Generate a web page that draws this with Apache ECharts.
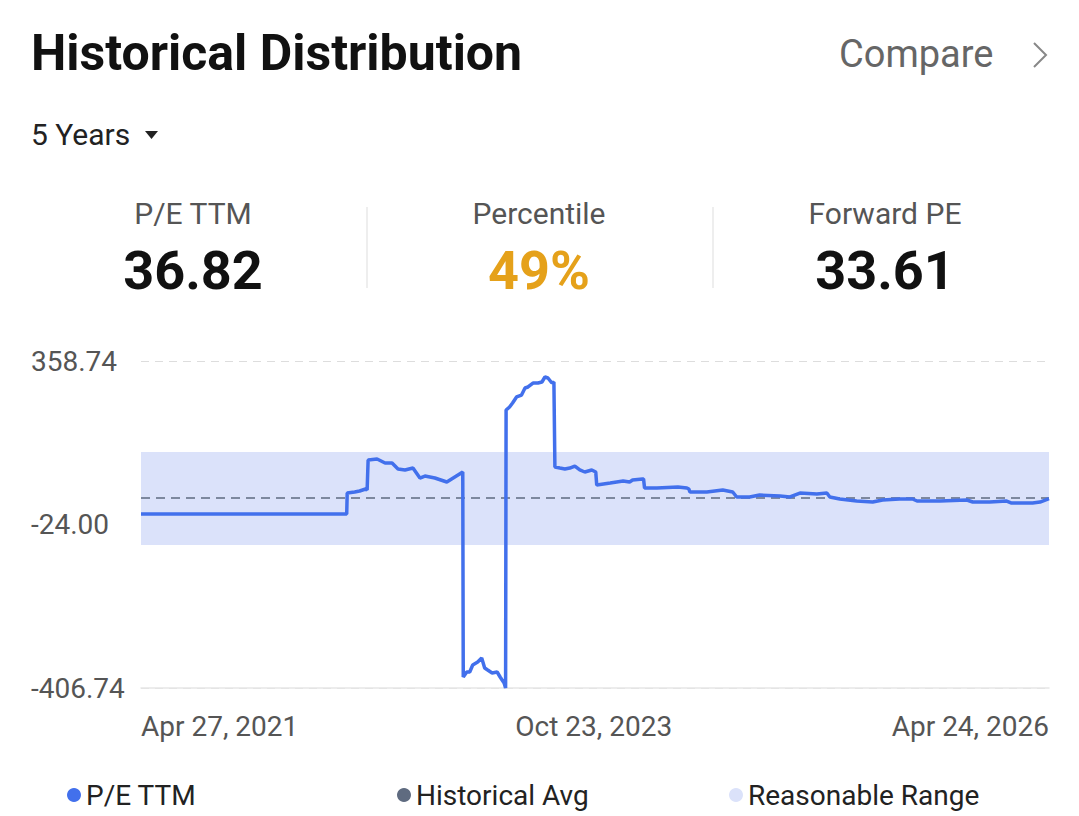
<!DOCTYPE html>
<html>
<head>
<meta charset="utf-8">
<script src="https://cdn.jsdelivr.net/npm/echarts@6/dist/echarts.min.js"></script>
<style>
  html, body { margin: 0; padding: 0; background: #fff; }
  #main { width: 1079px; height: 816px; }
</style>
</head>
<body>
<div id="main"></div>
<script>
// P/E TTM history
var peDates = [
  '2021-04-27','2022-06-14','2022-06-15','2022-06-30','2022-07-10','2022-07-22','2022-07-25',
  '2022-07-27','2022-08-14','2022-08-30','2022-09-13','2022-09-25','2022-10-09','2022-10-25',
  '2022-11-08','2022-11-18','2022-12-08','2023-01-01','2023-01-17','2023-02-02','2023-02-03',
  '2023-02-10','2023-02-16','2023-02-22','2023-03-04','2023-03-12','2023-03-18','2023-03-24',
  '2023-04-02','2023-04-12','2023-04-18','2023-04-26','2023-04-29','2023-04-30','2023-05-07',
  '2023-05-13','2023-05-21','2023-05-31','2023-06-07','2023-06-13','2023-06-23','2023-07-03',
  '2023-07-11','2023-07-17','2023-07-23','2023-07-31','2023-08-04','2023-08-06','2023-08-16',
  '2023-08-26','2023-09-05','2023-09-15','2023-09-25','2023-10-05','2023-10-19','2023-10-27',
  '2023-10-29','2023-11-25','2023-12-21','2024-01-03','2024-01-09','2024-01-29','2024-01-31',
  '2024-02-02','2024-02-27','2024-04-09','2024-04-27','2024-05-01','2024-05-03','2024-06-06',
  '2024-07-08','2024-07-28','2024-08-05','2024-08-31','2024-09-20','2024-10-31','2024-11-20',
  '2024-12-10','2025-01-13','2025-02-02','2025-02-08','2025-02-28','2025-04-03','2025-05-05',
  '2025-05-25','2025-06-28','2025-07-24','2025-08-02','2025-09-17','2025-11-10','2025-11-22',
  '2025-12-26','2026-01-29','2026-02-08','2026-03-22','2026-04-06','2026-04-24'
];
var peValues = [
  0.6, 0.6, 49.7, 52.1, 54.4, 59.1, 56.7,
  127.0, 129.3, 119.9, 119.9, 105.9, 103.6, 108.2,
  84.8, 89.5, 84.8, 75.5, 87.2, 98.9, -381.0,
  -369.3, -369.3, -352.9, -345.9, -336.5, -359.9, -364.6,
  -371.6, -369.3, -381.0, -395.0, -406.74, 244.0, 251.0,
  260.4, 274.5, 279.1, 295.5, 297.9, 307.2, 307.2,
  309.6, 321.3, 318.9, 307.2, 309.6, 110.6, 108.2,
  105.9, 108.2, 112.9, 103.6, 98.9, 103.6, 98.9,
  68.4, 73.1, 77.8, 75.5, 80.2, 82.5, 82.5,
  61.4, 61.4, 63.8, 61.4, 59.1, 52.1, 52.1,
  56.7, 52.1, 40.4, 40.4, 45.0, 42.7, 40.4,
  49.7, 47.4, 49.7, 40.4, 35.7, 31.0, 28.6,
  33.3, 35.7, 35.7, 31.0, 31.0, 33.3, 28.6,
  28.6, 31.0, 26.3, 26.3, 28.6, 36.82
];
var historicalAvg = 38.0;
var reasonableRange = [-72.0, 145.7];
var yTicks = [-406.74, -24.00, 358.74];
var xTicks = ['2021-04-27', '2023-10-23', '2026-04-24'];

var stats = [
  { name: 'P/E TTM', value: '36.82', color: '#111111' },
  { name: 'Percentile', value: '49%', color: '#e5a11a' },
  { name: 'Forward PE', value: '33.61', color: '#111111' }
];

var MONTHS = ['Jan','Feb','Mar','Apr','May','Jun','Jul','Aug','Sep','Oct','Nov','Dec'];
var FONT = 'Roboto, "Noto Sans", sans-serif';

var chart = echarts.init(document.getElementById('main'), null, { renderer: 'svg' });

var lineColor = '#4270ec';
var avgColor = '#5f6b80';
var bandColor = '#dbe2fa';

var peData = peDates.map(function (d, i) { return [Date.parse(d), peValues[i]]; });
var xTickNums = xTicks.map(function (d) { return Date.parse(d); });

// header texts + dividers
var graphics = [
  { type: 'text', left: 31, top: 28, style: { text: 'Historical Distribution', font: 'bold 50px ' + FONT, fill: '#111' } },
  { type: 'text', left: 839, top: 35, style: { text: 'Compare', font: '38px ' + FONT, fill: '#666' } },
  { type: 'polyline', shape: { points: [[1034, 43], [1046, 55], [1034, 67]] }, style: { stroke: '#888', lineWidth: 2, fill: null } },
  { type: 'text', left: 31, top: 119, style: { text: '5 Years', font: '30px ' + FONT, fill: '#222' } },
  { type: 'polygon', shape: { points: [[145, 131], [158, 131], [151.5, 139]] }, style: { fill: '#222' } },
  { type: 'line', shape: { x1: 367, y1: 207, x2: 367, y2: 288 }, style: { stroke: '#e8e8e8', lineWidth: 1.5 } },
  { type: 'line', shape: { x1: 713, y1: 207, x2: 713, y2: 288 }, style: { stroke: '#e8e8e8', lineWidth: 1.5 } }
];
var centers = [193, 539, 885];
stats.forEach(function (s, i) {
  graphics.push({ type: 'text', x: centers[i], y: 213, style: { text: s.name, font: '30px ' + FONT, fill: '#555', align: 'center', verticalAlign: 'middle' } });
  graphics.push({ type: 'text', x: centers[i], y: 270, style: { text: s.value, font: 'bold 54px ' + FONT, fill: s.color, align: 'center', verticalAlign: 'middle' } });
});

function legendOf(name, left, color) {
  return {
    data: [{ name: name, itemStyle: { color: color } }],
    left: left, top: 776,
    icon: 'circle', itemWidth: 14, itemHeight: 14, itemGap: 10,
    selectedMode: false,
    textStyle: { fontSize: 28, color: '#222', fontFamily: FONT }
  };
}

chart.setOption({
  backgroundColor: '#fff',
  animation: false,
  graphic: graphics,
  legend: [
    legendOf('P/E TTM', 62, lineColor),
    legendOf('Historical Avg', 392, avgColor),
    legendOf('Reasonable Range', 724, bandColor)
  ],
  grid: { left: 141, right: 30, top: 361, bottom: 128 },
  xAxis: {
    type: 'value',
    min: xTickNums[0], max: xTickNums[2],
    axisLine: { onZero: false, lineStyle: { color: '#e6e6e6', width: 1.5 } },
    axisTick: { show: false, customValues: xTickNums },
    splitLine: { show: false },
    axisLabel: {
      customValues: xTickNums,
      margin: 24,
      fontSize: 28, color: '#555', fontFamily: FONT,
      alignMinLabel: 'left', alignMaxLabel: 'right',
      formatter: function (v) {
        var d = new Date(v);
        return MONTHS[d.getUTCMonth()] + ' ' + d.getUTCDate() + ', ' + d.getUTCFullYear();
      }
    }
  },
  yAxis: {
    type: 'value',
    min: yTicks[0], max: yTicks[2],
    axisLine: { show: false },
    axisTick: { show: false, customValues: yTicks },
    splitLine: { lineStyle: { color: '#dddddd', type: [8, 6], width: 1 } },
    axisLabel: {
      customValues: yTicks,
      align: 'left', margin: 110,
      fontSize: 28, color: '#555', fontFamily: FONT,
      formatter: function (v) { return v.toFixed(2); }
    }
  },
  series: [
    {
      name: 'Reasonable Range', type: 'line', data: [],
      itemStyle: { color: bandColor },
      markArea: {
        silent: true,
        itemStyle: { color: bandColor, opacity: 1 },
        data: [[{ yAxis: reasonableRange[0] }, { yAxis: reasonableRange[1] }]]
      }
    },
    {
      name: 'Historical Avg', type: 'line', data: [],
      itemStyle: { color: avgColor },
      markLine: {
        silent: true, symbol: 'none', label: { show: false },
        lineStyle: { color: avgColor, type: [9, 6], width: 1.5 },
        data: [{ yAxis: historicalAvg }]
      }
    },
    {
      name: 'P/E TTM', type: 'line', data: peData,
      showSymbol: false,
      itemStyle: { color: lineColor },
      lineStyle: { color: lineColor, width: 3.5 },
      z: 5
    }
  ]
});
</script>
</body>
</html>
